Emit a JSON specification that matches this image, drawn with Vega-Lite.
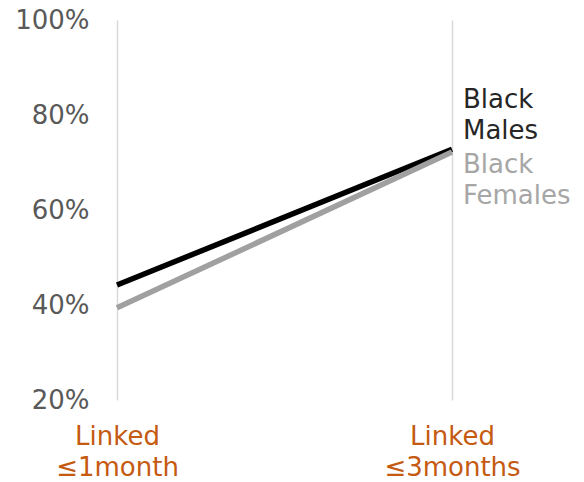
{
  "$schema": "https://vega.github.io/schema/vega-lite/v6.json",
  "autosize": "none",
  "padding": {"left": 117, "top": 20, "right": 132, "bottom": 82},
  "width": 335,
  "height": 380,
  "background": "white",
  "config": {"view": {"stroke": null}, "font": "DejaVu Sans"},
  "data": {"values": [
    {"period": "Linked ≤1month", "group": "Black Males", "value": 0.442},
    {"period": "Linked ≤3months", "group": "Black Males", "value": 0.728},
    {"period": "Linked ≤1month", "group": "Black Females", "value": 0.394},
    {"period": "Linked ≤3months", "group": "Black Females", "value": 0.722}
  ]},
  "encoding": {
    "x": {"field": "period", "type": "ordinal", "sort": null,
      "scale": {"type": "point", "padding": 0},
      "axis": {"title": null, "domain": false, "ticks": false, "grid": true, "gridColor": "#d9d9d9", "gridWidth": 1.5,
        "labelAngle": 0, "labelFont": "DejaVu Sans", "labelFontSize": 26, "labelColor": "#C55A11",
        "labelExpr": "split(datum.label, ' ')", "labelLineHeight": 31, "labelPadding": 23, "labelAlign": "center"}},
    "y": {"field": "value", "type": "quantitative",
      "scale": {"domain": [0.2, 1.0], "nice": false, "zero": false},
      "axis": {"title": null, "format": ".0%", "values": [0.2, 0.4, 0.6, 0.8, 1.0], "domain": false, "ticks": false, "grid": false,
        "labelFont": "DejaVu Sans", "labelFontSize": 26, "labelColor": "#595959", "labelPadding": 28}}
  },
  "layer": [
    {
      "mark": {"type": "line", "strokeWidth": 5.5, "strokeCap": "butt"},
      "encoding": {
        "detail": {"field": "group"},
        "color": {"field": "group", "type": "nominal", "legend": null,
          "scale": {"domain": ["Black Males", "Black Females"], "range": ["#000000", "#a0a0a0"]}},
        "order": {"field": "group", "sort": "ascending"}
      }
    },
    {
      "transform": [{"filter": "datum.group === 'Black Males' && datum.period === 'Linked ≤3months'"}],
      "mark": {"type": "text", "align": "left", "baseline": "bottom", "dx": 11, "dy": -36, "lineBreak": " ", "lineHeight": 31, "fontSize": 26, "font": "DejaVu Sans", "color": "#262626"},
      "encoding": {"text": {"field": "group"}}
    },
    {
      "transform": [{"filter": "datum.group === 'Black Females' && datum.period === 'Linked ≤3months'"}],
      "mark": {"type": "text", "align": "left", "baseline": "top", "dx": 11, "dy": 0, "lineBreak": " ", "lineHeight": 31, "fontSize": 26, "font": "DejaVu Sans", "color": "#a6a6a6"},
      "encoding": {"text": {"field": "group"}}
    }
  ]
}
